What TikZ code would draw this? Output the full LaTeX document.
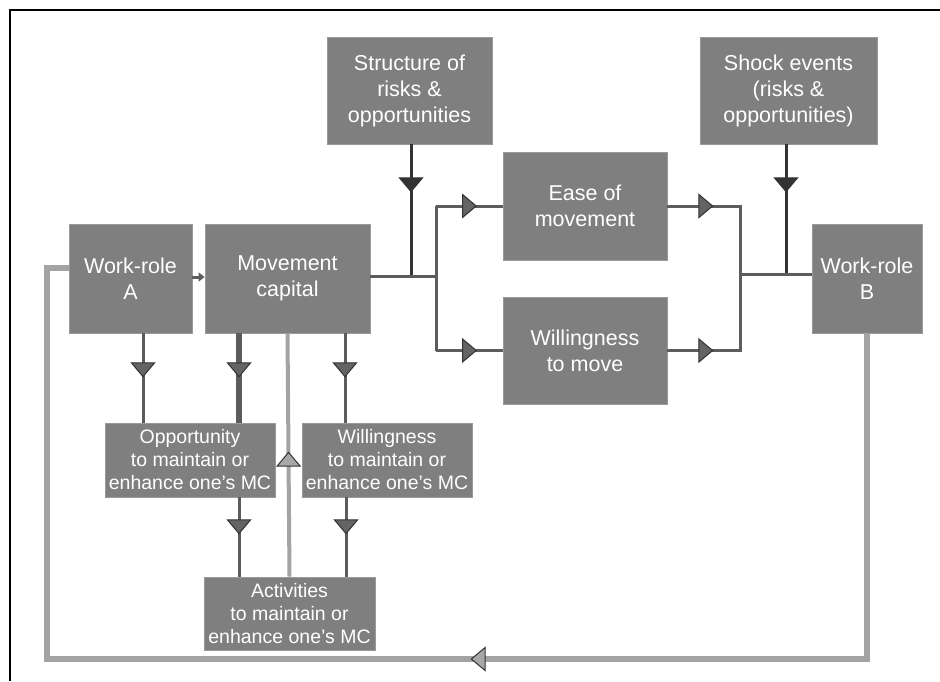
\documentclass[tikz,border=0pt]{standalone}
\usepackage{fontspec}
\setmainfont{Liberation Sans}
\usetikzlibrary{arrows.meta,decorations.markings,calc}
\definecolor{boxfill}{HTML}{7F7F7F}
\definecolor{boxedge}{HTML}{9A9A9A}
\definecolor{lineg}{HTML}{5C5C5C}
\definecolor{lined}{HTML}{333333}
\definecolor{linel}{HTML}{A3A3A3}
\definecolor{tipg}{HTML}{646464}
\definecolor{tipl}{HTML}{A8A8A8}
\tikzset{
  box/.style={draw=boxedge, line width=0.8pt, fill=boxfill, text=white, align=center, inner sep=0pt},
  bigtxt/.style={font=\fontsize{21.5}{26}\selectfont},
  smalltxt/.style={font=\fontsize{19.5}{23}\selectfont},
  gtip/.tip={Triangle[length=15pt,width=25pt,fill=tipg,color=lined,line width=1pt]},
  dtip/.tip={Triangle[length=15pt,width=25pt,fill=lined,color=lined,line width=1pt]},
  ltip/.tip={Triangle[length=15pt,width=25pt,fill=tipl,color=lined,line width=1pt]},
  gmark/.style={postaction={decorate},decoration={markings,mark=at position #1 with {\arrow{gtip}}}},
  dmark/.style={postaction={decorate},decoration={markings,mark=at position #1 with {\arrow{dtip}}}},
  lmark/.style={postaction={decorate},decoration={markings,mark=at position #1 with {\arrow{ltip}}}},
  gconn/.style={draw=lineg, line width=3pt},
  dconn/.style={draw=lined, line width=3pt},
}
\begin{document}
\begin{tikzpicture}[x=1pt,y=-1pt]
\useasboundingbox (0,0) rectangle (940,681);
\fill[white] (0,0) rectangle (940,681);
% frame
\draw[line width=2.5pt, black] (10,681) -- (10,10) -- (940,10);

% nodes
\node[box,bigtxt,minimum width=123pt,minimum height=109pt] (wra) at (130.5,278.5) {Work-role\\A};
\node[box,bigtxt,minimum width=165pt,minimum height=109pt] (mc) at (287.5,278.5) {Movement\\capital};
\node[box,bigtxt,minimum width=165pt,minimum height=107pt] (struct) at (409.5,90.5) {Structure of\\risks \&\\opportunities};
\node[box,bigtxt,minimum width=177pt,minimum height=107pt] (shock) at (788.5,90.5) {Shock events\\(risks \&\\opportunities)};
\node[box,bigtxt,minimum width=164pt,minimum height=108pt] (ease) at (585,206) {Ease of\\movement};
\node[box,bigtxt,minimum width=164pt,minimum height=107pt] (wtm) at (585,350.5) {Willingness\\to move};
\node[box,bigtxt,minimum width=110pt,minimum height=109pt] (wrb) at (867,278.5) {Work-role\\B};
\node[box,smalltxt,minimum width=170pt,minimum height=74pt] (opp) at (190,460) {Opportunity\\to maintain or\\enhance one’s MC};
\node[box,smalltxt,minimum width=170pt,minimum height=74pt] (wil) at (387,460) {Willingness\\to maintain or\\enhance one’s MC};
\node[box,smalltxt,minimum width=171pt,minimum height=73pt] (act) at (289.5,613.5) {Activities\\to maintain or\\enhance one’s MC};

% junction coordinates
\coordinate (jl) at (436,276);
\coordinate (jr) at (740,274);
\coordinate (js) at (786,274);
\coordinate (jt) at (411,276);

% return loop (light, drawn first)
\draw[draw=linel, line width=6pt, lmark=722pt] (wrb.south) -- (wrb.south |- 0,659) -- (47,659) -- (47,268) -- (wra.west |- 0,268);

% work-role A to movement capital
\draw[gconn,-{Triangle[length=6pt,width=9pt]}] (wra.east |- 0,277) -- (mc.west |- 0,277);

% top inputs
\draw[dconn, dmark=48pt] (struct.south -| jt) -- (jt);
\draw[dconn, dmark=48pt] (shock.south -| js) -- (js);

% left split
\draw[gconn] (mc.east |- jl) -- (jl);
\draw[gconn] (jl |- ease.west) -- (jl |- wtm.west);
\draw[gconn, gmark=41pt] (jl |- ease.west) -- (ease.west);
\draw[gconn, gmark=41pt] (jl |- wtm.west) -- (wtm.west);

% right merge
\draw[gconn, gmark=46pt] (ease.east) -| (jr);
\draw[gconn, gmark=46pt] (wtm.east) -| (jr);
\draw[gconn] (jr) -- (wrb.west |- jr);

% down from work-role A and movement capital
\draw[gconn, gmark=44pt] ([xshift=12.5pt]wra.south) -- ([xshift=12.5pt]wra.south |- opp.north);
\draw[draw=lineg, line width=6pt, gmark=44pt] ([xshift=-48.5pt]mc.south) -- ([xshift=-48.5pt]mc.south |- opp.north);
\draw[gconn, gmark=44pt] ([xshift=57.5pt]mc.south) -- ([xshift=57.5pt]mc.south |- wil.north);

% to activities
\draw[gconn, gmark=37pt] (opp.south -| 239,0) -- (act.north -| 239,0);
\draw[gconn, gmark=37pt] (wil.south -| 346,0) -- (act.north -| 346,0);

% activities feedback to movement capital
\draw[draw=linel, line width=4pt, lmark=125pt] (act.north) -- (mc.south);
\end{tikzpicture}
\end{document}
